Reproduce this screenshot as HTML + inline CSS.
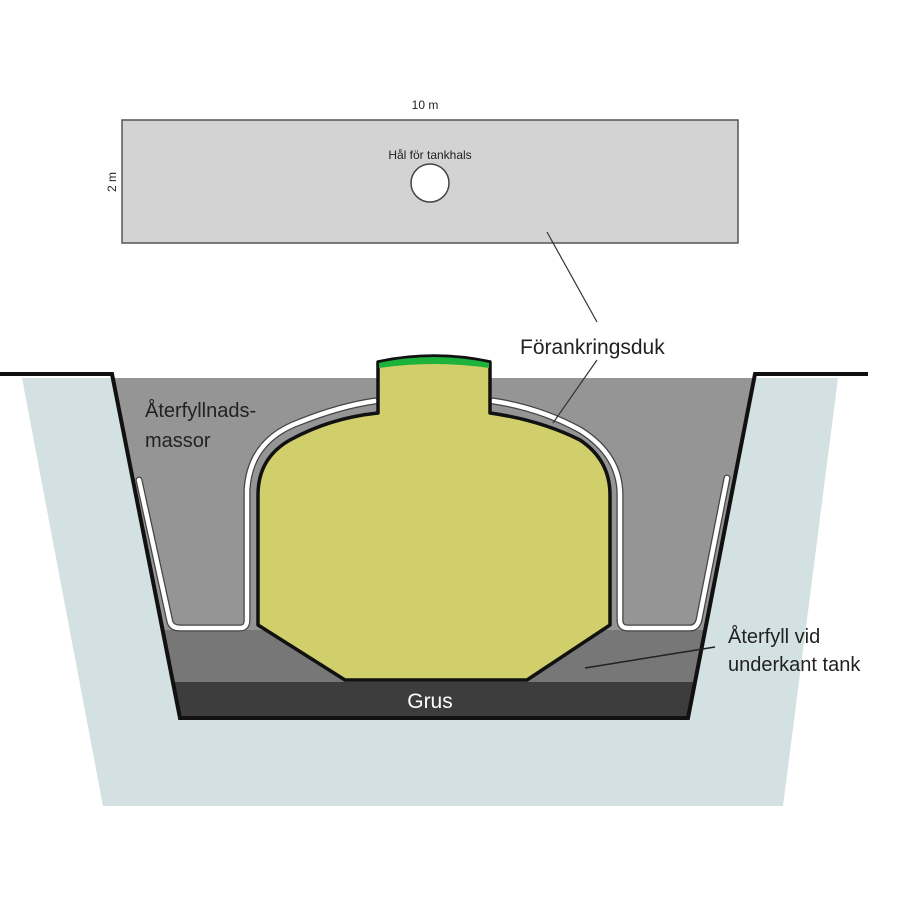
<!DOCTYPE html>
<html><head><meta charset="utf-8"><style>html,body{margin:0;padding:0;background:#fff}svg{display:block}text{font-family:"Liberation Sans",sans-serif}</style></head><body>
<svg width="900" height="900" viewBox="0 0 900 900" xmlns="http://www.w3.org/2000/svg">
<rect width="900" height="900" fill="#fff"/>
<text x="425" y="109" font-size="12" text-anchor="middle" fill="#222">10 m</text>
<rect x="122" y="120" width="616" height="123" fill="#d3d3d3" stroke="#555" stroke-width="1.5"/>
<text x="0" y="0" font-size="12" fill="#222" transform="translate(116,182) rotate(-90)" text-anchor="middle">2 m</text>
<text x="430" y="159" font-size="12" text-anchor="middle" fill="#222">Hål för tankhals</text>
<circle cx="430" cy="183" r="19" fill="#fff" stroke="#444" stroke-width="1.5"/>
<line x1="547" y1="232" x2="597" y2="322" stroke="#333" stroke-width="1.2"/>
<text x="520" y="354" font-size="21" fill="#222">Förankringsduk</text>
<polygon points="22,378 838,378 783,806 103,806" fill="#d3e1e3"/>
<defs><clipPath id="tr"><polygon points="112,378 755,378 688,718 180,718"/></clipPath></defs>
<g clip-path="url(#tr)">
<rect x="100" y="378" width="700" height="260" fill="#959595"/>
<rect x="100" y="630" width="700" height="52" fill="#777"/>
<rect x="100" y="682" width="700" height="40" fill="#3d3d3d"/>
</g>
<polyline points="0,374 112,374 180,718 688,718 755,374 868,374" fill="none" stroke="#111" stroke-width="4"/>
<g fill="none" stroke-linejoin="round" stroke-linecap="round">
<path d="M139,480 L170,622 Q172,628 180,628 L240,628 Q247,628 247,620 L247,490 Q250,440 300,422 Q340,406 375,401" stroke="#444" stroke-width="7"/>
<path d="M139,480 L170,622 Q172,628 180,628 L240,628 Q247,628 247,620 L247,490 Q250,440 300,422 Q340,406 375,401" stroke="#fff" stroke-width="4.5"/>
<path d="M493,401 Q540,408 580,430 Q620,455 620,495 L620,620 Q620,628 628,628 L690,628 Q697,628 699,620 L727,478" stroke="#444" stroke-width="7"/>
<path d="M493,401 Q540,408 580,430 Q620,455 620,495 L620,620 Q620,628 628,628 L690,628 Q697,628 699,620 L727,478" stroke="#fff" stroke-width="4.5"/>
</g>
<line x1="597" y1="360" x2="553" y2="423" stroke="#333" stroke-width="1.2"/>
<path d="M378,362 Q434,350 490,362 L490,413 Q540,420 580,440 Q610,460 610,495 L610,625 L527,680 L345,680 L258,625 L258,495 Q258,458 290,440 Q330,418 378,413 Z" fill="#d0cf6b" stroke="#111" stroke-width="3.5" stroke-linejoin="round"/>
<path d="M379,362 Q434,350 489,362 L489,368 Q434,360 379,368 Z" fill="#1db33a"/>
<path d="M378,362 Q434,350 490,362" fill="none" stroke="#111" stroke-width="2"/>
<text x="145" y="417" font-size="20" fill="#222">Återfyllnads-</text>
<text x="145" y="447" font-size="20" fill="#222">massor</text>
<text x="728" y="643" font-size="20" fill="#222">Återfyll vid</text>
<text x="728" y="671" font-size="20" fill="#222">underkant tank</text>
<line x1="715" y1="647" x2="585" y2="668" stroke="#222" stroke-width="1.5"/>
<text x="430" y="708" font-size="21" fill="#fff" text-anchor="middle">Grus</text>
</svg>
</body></html>
